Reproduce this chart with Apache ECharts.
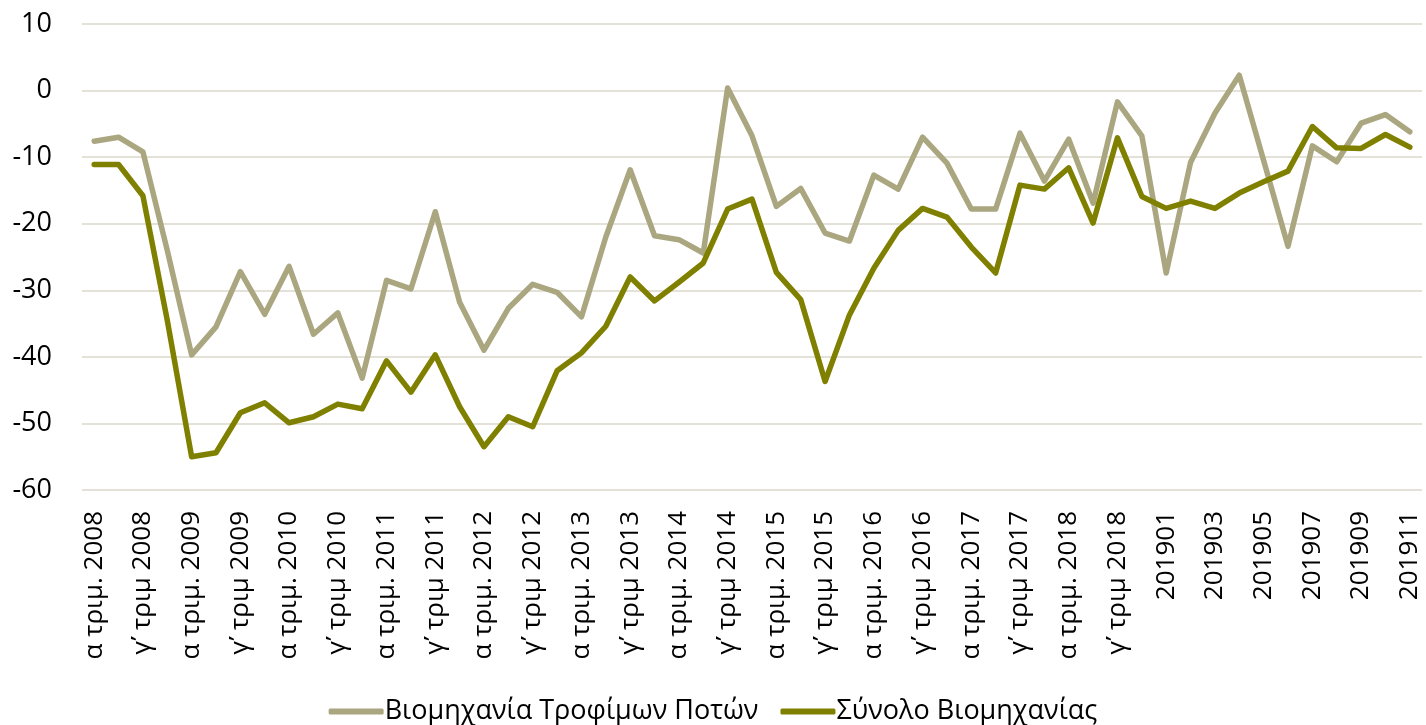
<!DOCTYPE html>
<html>
<head>
<meta charset="utf-8">
<script type="text/javascript" src="https://cdn.jsdelivr.net/npm/echarts@6/dist/echarts.min.js"></script>
<style>
  html, body { margin: 0; padding: 0; background: #fff; }
</style>
</head>
<body>
<div id="main" style="width:1426px;height:725px"></div>
<script type="text/javascript">
// κατηγορίες: τρίμηνα 2008-2018, μετά μήνες 2019
var years = ['2008','2009','2010','2011','2012','2013','2014','2015','2016','2017','2018'];
var months2019 = ['201901','201902','201903','201904','201905','201906','201907','201908','201909','201910','201911'];
var categories = [];
years.forEach(function (y) {
  categories.push('α τριμ. ' + y, 'β\u0374 τριμ ' + y, 'γ\u0374 τριμ ' + y, 'δ\u0374 τριμ ' + y);
});
categories = categories.concat(months2019);

var seriesNames = ['Βιομηχανία Τροφίμων Ποτών', 'Σύνολο Βιομηχανίας'];

var foodDrinks = [
  -7.6, -7.0, -9.2, -24.0, -39.7, -35.5, -27.2, -33.6, -26.4, -36.6, -33.4,
  -43.2, -28.5, -29.8, -18.2, -31.8, -39.0, -32.7, -29.1, -30.3, -34.0, -22.0,
  -11.9, -21.8, -22.4, -24.4, 0.4, -6.8, -17.4, -14.7, -21.4, -22.6, -12.7,
  -14.8, -7.0, -10.9, -17.8, -17.8, -6.4, -13.6, -7.3, -16.9, -1.7, -6.8,
  -27.4, -10.8, -3.4, 2.3, -10.5, -23.4, -8.3, -10.7, -4.9, -3.6, -6.2
];

var totalIndustry = [
  -11.1, -11.1, -15.8, -34.5, -55.0, -54.4, -48.4, -46.9, -49.9, -49.0, -47.1,
  -47.8, -40.6, -45.3, -39.7, -47.5, -53.5, -49.0, -50.5, -42.1, -39.4, -35.4,
  -28.0, -31.6, -28.8, -25.9, -17.8, -16.3, -27.3, -31.4, -43.7, -33.7, -26.7,
  -21.0, -17.7, -19.0, -23.5, -27.4, -14.2, -14.8, -11.6, -19.9, -7.1, -15.9,
  -17.7, -16.6, -17.7, -15.4, -13.7, -12.1, -5.4, -8.6, -8.7, -6.6, -8.5
];

var myChart = echarts.init(document.getElementById('main'));
var font = '"Open Sans", "Noto Sans", sans-serif';

var option = {
  animation: false,
  backgroundColor: '#ffffff',
  textStyle: { fontFamily: font },
  grid: { left: 82, right: 4, top: 24, bottom: 235 },
  legend: {
    top: 693,
    left: 'center',
    itemWidth: 55,
    itemHeight: 6,
    itemGap: 22,
    icon: 'roundRect',
    textStyle: { fontSize: 27, color: '#000', fontFamily: font, padding: [0, 0, 0, -4] },
    data: seriesNames
  },
  xAxis: {
    type: 'category',
    boundaryGap: true,
    data: categories,
    axisLine: { show: false },
    axisTick: { show: false },
    axisLabel: {
      interval: 1,
      rotate: 90,
      margin: 21,
      fontSize: 26,
      color: '#000',
      fontFamily: font
    }
  },
  yAxis: {
    type: 'value',
    min: -60,
    max: 10,
    interval: 10,
    axisLine: { show: false },
    axisTick: { show: false },
    axisLabel: { fontSize: 27, color: '#000', margin: 30, fontFamily: font },
    splitLine: { lineStyle: { color: '#e4e1d8', width: 2 } }
  },
  series: [
    {
      name: seriesNames[0],
      type: 'line',
      data: foodDrinks,
      symbol: 'none',
      color: '#aaa67f',
      lineStyle: { width: 5.5, color: '#aaa67f', cap: 'round', join: 'round' }
    },
    {
      name: seriesNames[1],
      type: 'line',
      data: totalIndustry,
      symbol: 'none',
      color: '#808000',
      lineStyle: { width: 5.5, color: '#808000', cap: 'round', join: 'round' }
    }
  ]
};
myChart.setOption(option);
</script>
</body>
</html>
